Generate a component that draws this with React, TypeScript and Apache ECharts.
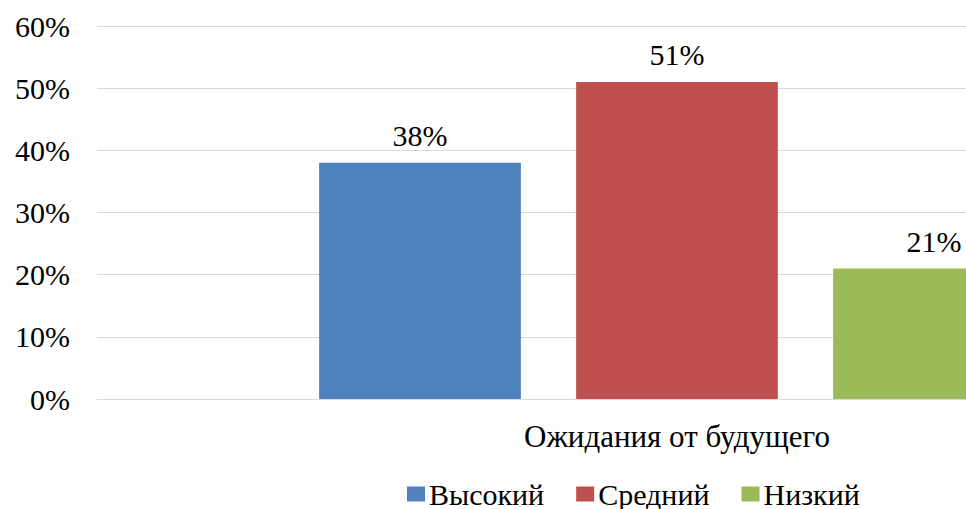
import React, { useEffect, useRef } from "react";
import * as echarts from "echarts";

const categories = ["Ожидания от будущего"];
const seriesNames = ["Высокий", "Средний", "Низкий"];
const seriesValues = [[38], [51], [21]];
const seriesColors = ["#4F81BD", "#C0504D", "#9BBB59"];
const yTicks = [0, 10, 20, 30, 40, 50, 60];

const FONT = "Liberation Serif";

export default function App() {
  const ref = useRef<HTMLDivElement>(null);
  useEffect(() => {
    if (!ref.current) return;
    const chart = echarts.init(ref.current, undefined, { renderer: "svg" });
    chart.setOption({
      animation: false,
      backgroundColor: "#ffffff",
      textStyle: { fontFamily: FONT },
      grid: { left: 97, right: 43, top: 26, bottom: 110, containLabel: false },
      legend: {
        data: seriesNames,
        left: 402,
        top: 474,
        padding: 5,
        itemWidth: 18,
        itemHeight: 15,
        itemGap: 32,
        icon: "rect",
        textStyle: { fontFamily: FONT, fontSize: 30, color: "#000", padding: [0, 0, 0, -1] },
      },
      xAxis: {
        type: "category",
        data: categories,
        axisLine: { show: true, lineStyle: { color: "#D9D9D9", width: 1 } },
        axisTick: { show: false },
        axisLabel: { fontFamily: FONT, fontSize: 31, color: "#000", margin: 22 },
      },
      yAxis: {
        type: "value",
        min: yTicks[0],
        max: yTicks[yTicks.length - 1],
        interval: 10,
        axisLine: { show: false },
        axisTick: { show: false },
        splitLine: { lineStyle: { color: "#D9D9D9", width: 1 } },
        axisLabel: { fontFamily: FONT, fontSize: 30, color: "#000", margin: 27, formatter: "{value}%" },
      },
      series: seriesNames.map((name, i) => ({
        name,
        type: "bar",
        data: seriesValues[i],
        barGap: "27.4%",
        barCategoryGap: "38.3%",
        itemStyle: { color: seriesColors[i] },
        label: {
          show: true,
          position: "top",
          distance: 12,
          formatter: "{c}%",
          fontFamily: FONT,
          fontSize: 30,
          color: "#000",
        },
      })),
    });
    return () => chart.dispose();
  }, []);
  return (
    <div
      style={{
        position: "fixed",
        left: 0,
        top: 0,
        width: 966,
        height: 509,
        overflow: "hidden",
        background: "#fff",
      }}
    >
      <div ref={ref} style={{ width: 1300, height: 509 }} />
    </div>
  );
}
